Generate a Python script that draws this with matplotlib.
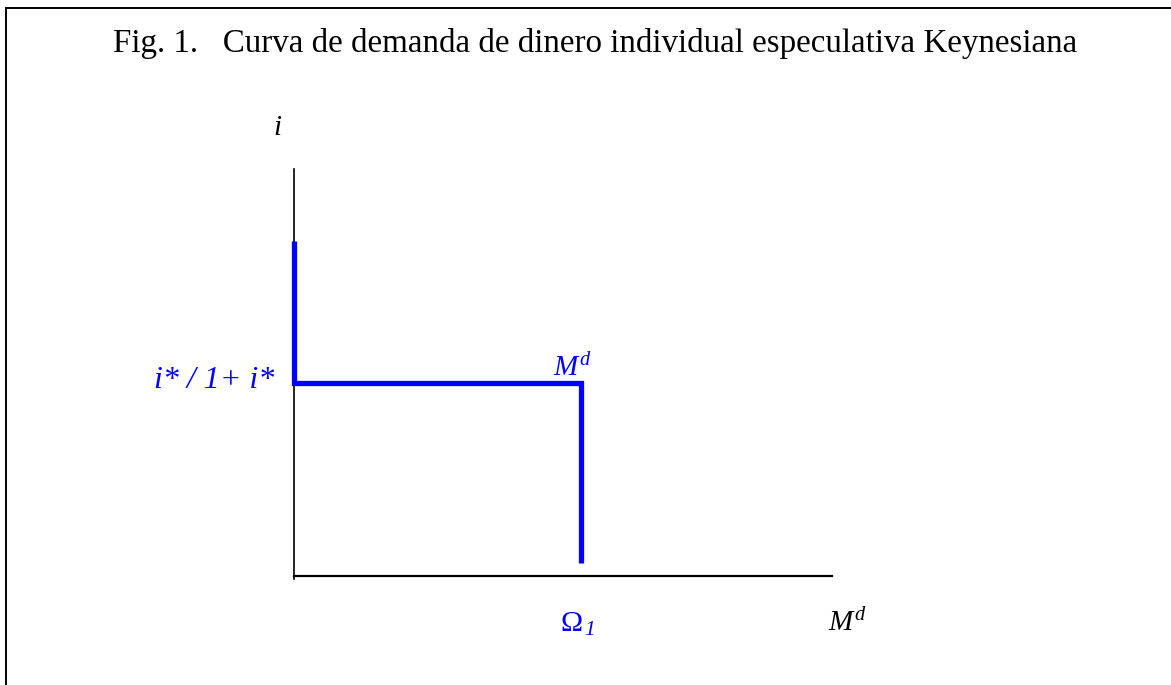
import matplotlib
matplotlib.use("Agg")
import matplotlib.pyplot as plt
from matplotlib.lines import Line2D

# demand curve, in axis units (money on x, interest rate on y), both 0..100
md_x = [0, 0, 53.4, 53.4]
md_y = [82.4, 47.3, 47.3, 3.3]

title = "Fig. 1.   Curva de demanda de dinero individual especulativa Keynesiana"
y_label = "i"
x_label = r"$M^{d}$"
curve_label = r"$M^{d}$"
rate_label = "i* / 1+ i*"
omega_label = "Ω"
omega_sub = "1"

BLUE = "#0000ff"


def main():
    plt.rcParams["font.family"] = ["Liberation Serif", "DejaVu Serif"]
    plt.rcParams["mathtext.fontset"] = "custom"
    plt.rcParams["mathtext.rm"] = "Liberation Serif"
    plt.rcParams["mathtext.it"] = "Liberation Serif:italic"

    W, H = 1171, 685
    fig = plt.figure(figsize=(W / 100, H / 100), dpi=100)

    # frame around the figure (only top and left edges show)
    fig.add_artist(Line2D([6 / W, 1], [1 - 8 / H, 1 - 8 / H], color="black", lw=1.4))
    fig.add_artist(Line2D([6 / W, 6 / W], [0, 1 - 8 / H], color="black", lw=1.4))

    fig.text(113 / W, 1 - 52 / H, title, fontsize=23.8, va="baseline", ha="left")

    # axes: origin at pixel (294, 576), x axis to 832, y axis up to 169
    ax = fig.add_axes([294 / W, (H - 576) / H, 538 / W, 407 / H])
    ax.set_xlim(0, 100)
    ax.set_ylim(0, 100)
    ax.set_xticks([])
    ax.set_yticks([])
    ax.patch.set_visible(False)
    for s in ("top", "right"):
        ax.spines[s].set_visible(False)
    ax.spines["left"].set_linewidth(1.2)
    ax.spines["bottom"].set_linewidth(1.6)
    ax.spines["left"].set_bounds(-0.75, 100)

    ax.plot(md_x, md_y, color=BLUE, lw=3.8, solid_joinstyle="miter",
            solid_capstyle="butt", clip_on=False, zorder=3)

    ax.text(-0.0307, 1.0835, y_label, transform=ax.transAxes, fontsize=21,
            style="italic", ha="center", va="baseline")
    ax.text(-0.037, 0.462, rate_label, transform=ax.transAxes, fontsize=23,
            style="italic", color=BLUE, ha="right", va="baseline")
    ax.text(0.481, 0.491, curve_label, transform=ax.transAxes, fontsize=21,
            color=BLUE, ha="left", va="baseline")
    ax.text(0.496, -0.135, omega_label, transform=ax.transAxes, fontsize=21.5,
            color=BLUE, ha="left", va="baseline")
    ax.text(0.540, -0.145, omega_sub, transform=ax.transAxes, fontsize=15.5,
            style="italic", color=BLUE, ha="left", va="baseline")
    ax.text(0.9926, -0.135, x_label, transform=ax.transAxes, fontsize=21,
            ha="left", va="baseline")

    plt.savefig("out.png", dpi=100)


if __name__ == '__main__':
    main()
